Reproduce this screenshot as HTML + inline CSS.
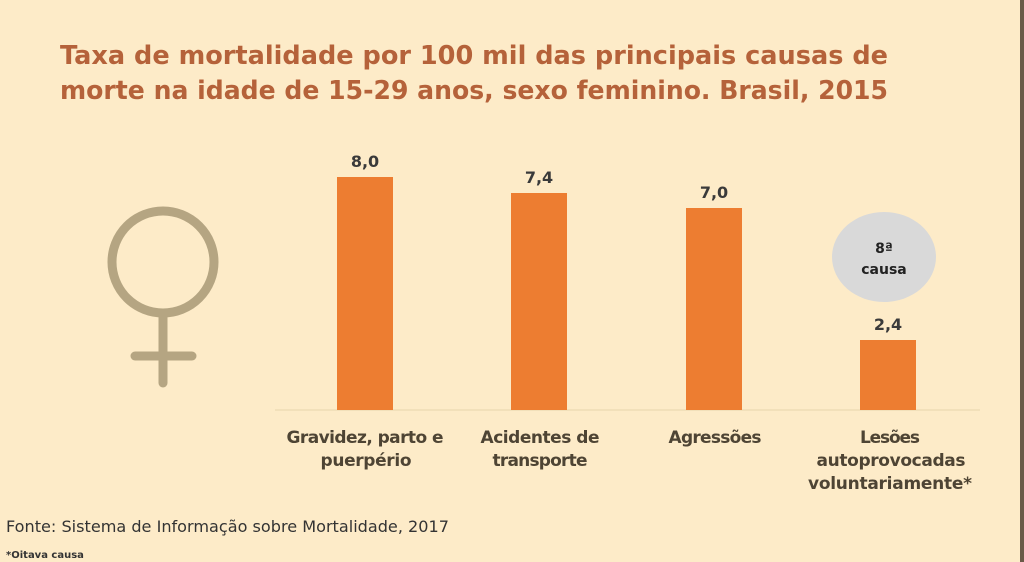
<!DOCTYPE html>
<html><head><meta charset="utf-8"><style>
body{margin:0;width:1024px;height:562px;overflow:hidden;background:#fdebc8;font-family:"DejaVu Sans","Liberation Sans",sans-serif;}
</style></head><body>
<svg width="1024" height="562" viewBox="0 0 1024 562" xmlns="http://www.w3.org/2000/svg" style="position:absolute;left:0;top:0">
<rect width="1024" height="562" fill="#fdebc8"/>
<rect x="1020" y="0" width="4" height="562" fill="#6a5a48"/>
<text x="60" y="64" font-size="26" font-weight="bold" fill="#b5623a" textLength="828" lengthAdjust="spacingAndGlyphs">Taxa de mortalidade por 100 mil das principais causas de</text>
<text x="60" y="99" font-size="26" font-weight="bold" fill="#b5623a" textLength="828" lengthAdjust="spacingAndGlyphs">morte na idade de 15-29 anos, sexo feminino. Brasil, 2015</text>
<g stroke="#b5a582" stroke-width="9" fill="none" stroke-linecap="round">
<circle cx="163" cy="262" r="51"/>
<line x1="163" y1="313" x2="163" y2="383"/>
<line x1="135" y1="356" x2="192" y2="356"/>
</g>
<line x1="275" y1="410" x2="980" y2="410" stroke="#eedcb6" stroke-width="1.5"/>
<g fill="#ed7d31">
<rect x="337" y="177" width="56" height="233"/>
<rect x="511" y="193" width="56" height="217"/>
<rect x="686" y="208" width="56" height="202"/>
<rect x="860" y="340" width="56" height="70"/>
</g>
<ellipse cx="884" cy="257" rx="52" ry="45" fill="#d9d9d9"/>
<g font-size="16" font-weight="bold" fill="#3a3a3a" text-anchor="middle">
<text x="365" y="167">8,0</text>
<text x="539" y="183">7,4</text>
<text x="714" y="198">7,0</text>
<text x="888" y="330">2,4</text>
<text x="884" y="253" font-size="14" fill="#222">8ª</text>
<text x="884" y="274" font-size="14" fill="#222">causa</text>
</g>
<g font-size="17" font-weight="bold" fill="#4e4434" text-anchor="middle" lengthAdjust="spacingAndGlyphs">
<text x="365" y="443" textLength="157">Gravidez, parto e</text>
<text x="366" y="466" textLength="91">puerpério</text>
<text x="540" y="443" textLength="119">Acidentes de</text>
<text x="540" y="466" textLength="95">transporte</text>
<text x="715" y="443" textLength="93">Agressões</text>
<text x="890" y="443" textLength="60">Lesões</text>
<text x="891" y="466" textLength="149">autoprovocadas</text>
<text x="890" y="489" textLength="164">voluntariamente*</text>
</g>
<text x="6" y="532" font-size="16" fill="#333" textLength="443" lengthAdjust="spacingAndGlyphs">Fonte: Sistema de Informação sobre Mortalidade, 2017</text>
<text x="6" y="558" font-size="10" font-weight="bold" fill="#333">*Oitava causa</text>
</svg>
</body></html>
